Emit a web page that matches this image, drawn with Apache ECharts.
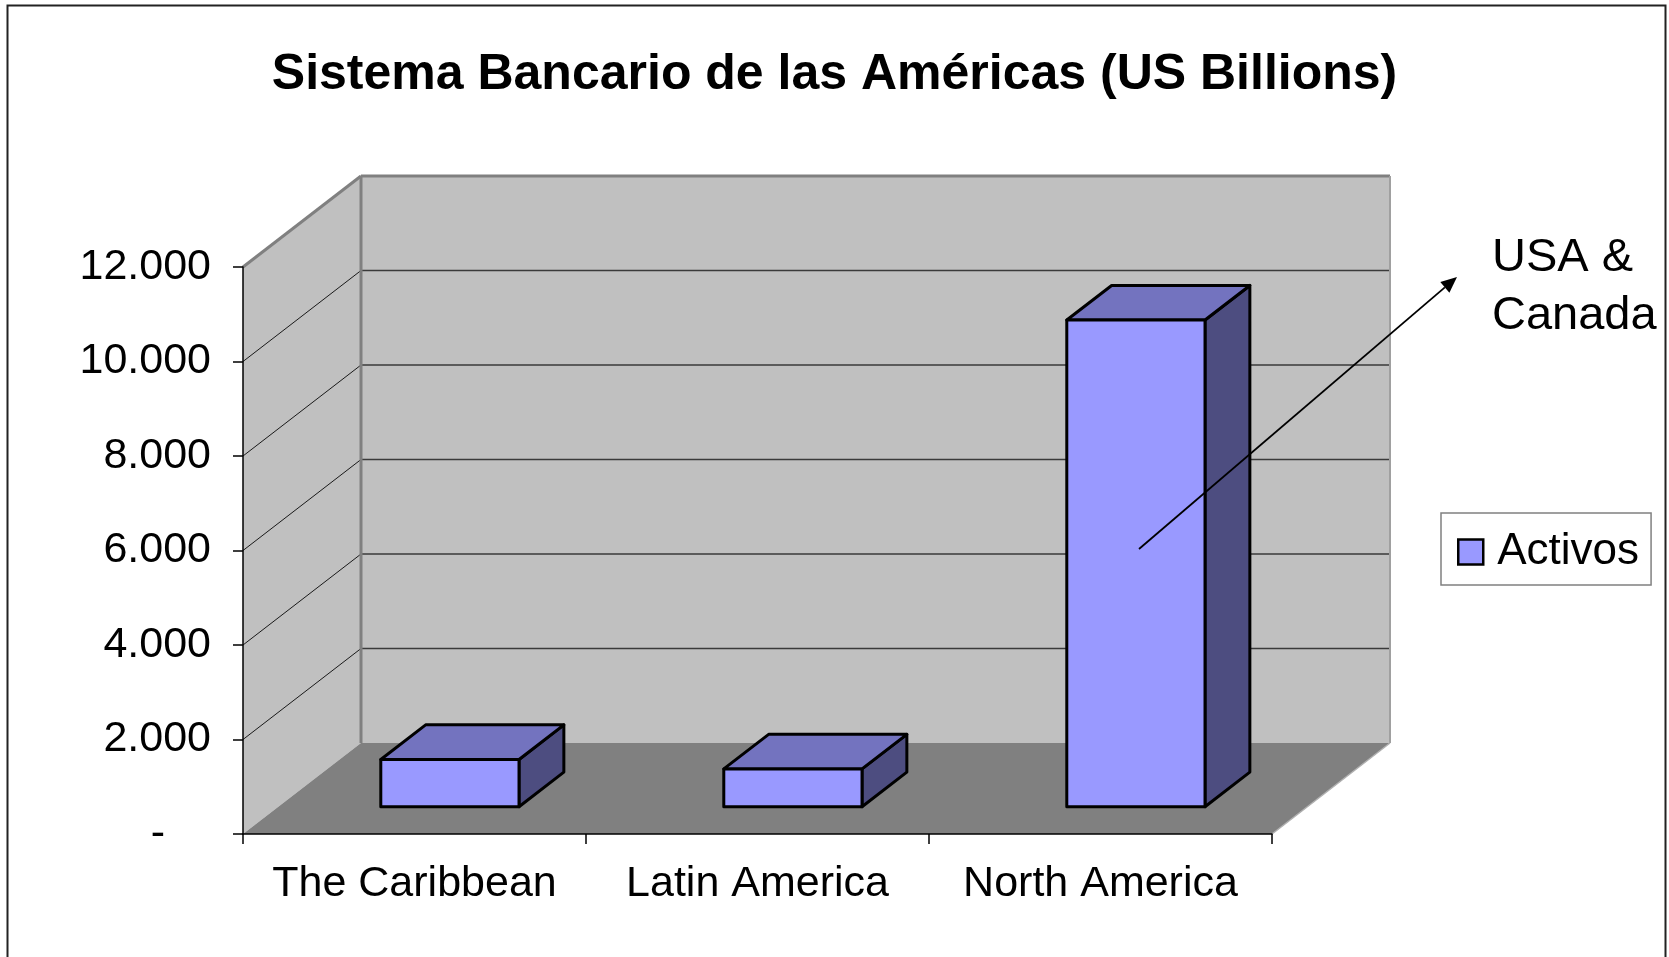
<!DOCTYPE html>
<html><head><meta charset="utf-8">
<script src="https://cdn.jsdelivr.net/npm/echarts@6/dist/echarts.min.js"></script>
<style>html,body{margin:0;padding:0;background:#fff}#c{width:1669px;height:957px}</style>
</head><body><div id="c"></div>
<script>
const categories = ['The Caribbean', 'Latin America', 'North America'];
const activos = [1000, 800, 10300];
const seriesName = 'Activos';
const yTicks = [0, 2000, 4000, 6000, 8000, 10000, 12000];
const titleText = 'Sistema Bancario de las Américas (US Billions)';
const noteLines = ['USA &', 'Canada'];

const FONT = '"Liberation Sans", Arial, sans-serif';
const DX = 118, DY = 91;
const BAR_FRONT = 0.3, BAR_DEPTH = 0.38, BAR_W = 0.403;

function fmt(v) {
  if (v === 0) return '{z|-}';
  return String(v).replace(/\B(?=(\d{3})+(?!\d))/g, '.');
}

function renderWalls(params, api) {
  const cs = params.coordSys;
  const x0 = cs.x, x1 = cs.x + cs.width, yb = cs.y + cs.height, yt = cs.y;
  const ch = [];
  ch.push({type: 'polygon', shape: {points: [[x0, yb], [x0, yt], [x0 + DX, yt - DY], [x0 + DX, yb - DY]]}, style: {fill: '#C0C0C0'}});
  ch.push({type: 'rect', shape: {x: x0 + DX, y: yt - DY, width: cs.width, height: cs.height}, style: {fill: '#C0C0C0'}});
  ch.push({type: 'polygon', shape: {points: [[x0, yb], [x1, yb], [x1 + DX, yb - DY], [x0 + DX, yb - DY]]}, style: {fill: '#808080'}});
  const maxT = yTicks[yTicks.length - 1];
  yTicks.forEach(t => {
    if (t === 0 || t === maxT) return;
    const y = api.coord([0, t])[1];
    ch.push({type: 'line', shape: {x1: x0, y1: y, x2: x0 + DX, y2: y - DY}, style: {stroke: '#1a1a1a', lineWidth: 1}});
    ch.push({type: 'line', shape: {x1: x0 + DX, y1: y - DY, x2: x1 + DX, y2: y - DY}, style: {stroke: '#3a3a3a', lineWidth: 1.5}});
  });
  const edge = {stroke: '#808080', lineWidth: 3};
  ch.push({type: 'line', shape: {x1: x0, y1: yt, x2: x0 + DX, y2: yt - DY}, style: edge});
  ch.push({type: 'line', shape: {x1: x0 + DX, y1: yt - DY, x2: x1 + DX, y2: yt - DY}, style: edge});
  ch.push({type: 'line', shape: {x1: x0 + DX, y1: yt - DY, x2: x0 + DX, y2: yb - DY}, style: edge});
  ch.push({type: 'line', shape: {x1: x1 + DX, y1: yt - DY, x2: x1 + DX, y2: yb - DY}, style: {stroke: '#A0A0A0', lineWidth: 2}});
  ch.push({type: 'line', shape: {x1: x1, y1: yb, x2: x1 + DX, y2: yb - DY}, style: {stroke: '#B0B0B0', lineWidth: 1.5}});
  return {type: 'group', children: ch};
}

function renderBar(params, api) {
  const i = api.value(0), v = api.value(1);
  const base = api.coord([i, 0]), top = api.coord([i, v]);
  const bw = api.size([1, 0])[0] * BAR_W;
  const ox = BAR_FRONT * DX, oy = BAR_FRONT * DY;
  const l = base[0] - bw / 2 + ox, r = base[0] + bw / 2 + ox;
  const b = base[1] - oy, t = top[1] - oy;
  const dx = BAR_DEPTH * DX, dy = BAR_DEPTH * DY;
  const st = {stroke: '#000', lineWidth: 3, lineJoin: 'round'};
  return {type: 'group', children: [
    {type: 'polygon', shape: {points: [[r, b], [r, t], [r + dx, t - dy], [r + dx, b - dy]]}, style: Object.assign({fill: '#4D4D80'}, st)},
    {type: 'polygon', shape: {points: [[l, t], [r, t], [r + dx, t - dy], [l + dx, t - dy]]}, style: Object.assign({fill: '#7373BF'}, st)},
    {type: 'rect', shape: {x: l, y: t, width: r - l, height: b - t}, style: Object.assign({fill: '#9999FF'}, st)}
  ]};
}

// arrow annotation
const A0 = [1139, 549], A1 = [1457, 277];
const ang = Math.atan2(A1[1] - A0[1], A1[0] - A0[0]);
const HL = 16, HW = 7;
const hb = [A1[0] - HL * Math.cos(ang), A1[1] - HL * Math.sin(ang)];
const head = [A1, [hb[0] + HW * Math.sin(ang), hb[1] - HW * Math.cos(ang)], [hb[0] - HW * Math.sin(ang), hb[1] + HW * Math.cos(ang)]];

const chart = echarts.init(document.getElementById('c'), null, {renderer: 'canvas'});
chart.setOption({
  backgroundColor: '#fff',
  animation: false,
  textStyle: {fontFamily: FONT},
  title: {
    text: titleText, left: 'center', top: 50, padding: 0,
    textStyle: {fontFamily: FONT, fontSize: 50, fontWeight: 'bold', color: '#000'}
  },
  legend: {
    data: [{name: seriesName, icon: 'rect', itemStyle: {color: '#9999FF', borderColor: '#000', borderWidth: 2.5}}],
    left: 1441, top: 513, orient: 'vertical',
    padding: [15, 12, 9, 16],
    borderColor: '#808080', borderWidth: 1.5,
    itemWidth: 25, itemHeight: 25,
    selectedMode: false,
    textStyle: {fontFamily: FONT, fontSize: 44, color: '#000', lineHeight: 48, padding: [0, 0, 0, 9]}
  },
  grid: {left: 243, top: 267, width: 1029, height: 567},
  xAxis: {
    type: 'category', data: categories, z: 10,
    axisLine: {lineStyle: {color: '#000', width: 1.5}},
    axisTick: {show: true, length: 10, lineStyle: {color: '#000', width: 1.5}},
    axisLabel: {interval: 0, margin: 29, fontSize: 43, color: '#000', fontFamily: FONT},
    splitLine: {show: false}
  },
  yAxis: {
    type: 'value', min: 0, max: 12000, interval: 2000, z: 10,
    axisLine: {show: true, lineStyle: {color: '#000', width: 1.5}},
    axisTick: {show: true, length: 10, lineStyle: {color: '#000', width: 1.5}},
    axisLabel: {margin: 32, fontSize: 43, color: '#000', fontFamily: FONT, formatter: fmt,
      rich: {z: {fontSize: 43, fontFamily: FONT, color: '#000', padding: [0, 46, 0, 0]}}},
    splitLine: {show: false}
  },
  series: [
    {type: 'custom', name: '_walls', renderItem: renderWalls, data: [[0, 0]], silent: true, clip: false, z: 1},
    {type: 'custom', name: seriesName, renderItem: renderBar, clip: false, z: 3,
      itemStyle: {color: '#9999FF'},
      data: categories.map((c, i) => [i, activos[i]])}
  ],
  graphic: [
    {type: 'rect', shape: {x: 7.5, y: 5.5, width: 1658, height: 1000}, style: {fill: null, stroke: '#222', lineWidth: 2}, silent: true},
    {type: 'text', x: 1492, y: 229, style: {text: noteLines.join('\n'), fontFamily: FONT, fontSize: 47, lineHeight: 58, fill: '#000', textAlign: 'left', textVerticalAlign: 'top'}},
    {type: 'line', shape: {x1: A0[0], y1: A0[1], x2: hb[0], y2: hb[1]}, style: {stroke: '#000', lineWidth: 1.8}, z: 20},
    {type: 'polygon', shape: {points: head}, style: {fill: '#000'}, z: 20}
  ]
});
</script></body></html>
